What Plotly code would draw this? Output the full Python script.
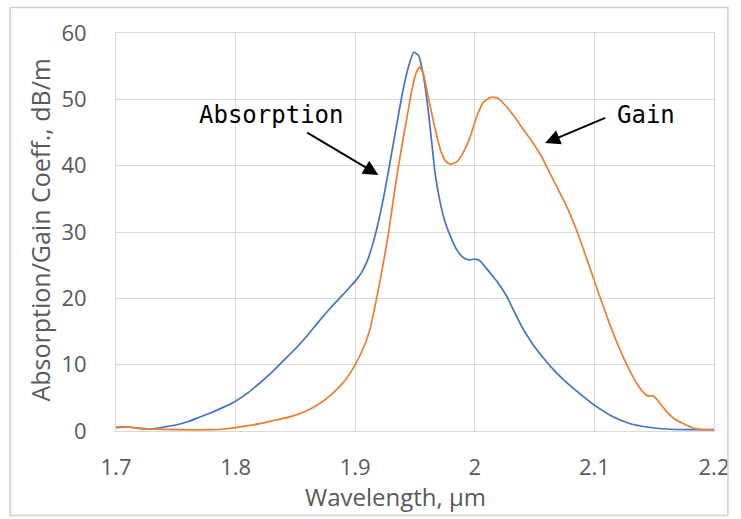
import plotly.graph_objects as go

# Absorption (blue)
abs_x = [1.700, 1.710, 1.720, 1.730, 1.740, 1.750, 1.760, 1.770, 1.780, 1.790, 1.800, 1.810, 1.820, 1.830,
         1.840, 1.850, 1.860, 1.870, 1.880, 1.890, 1.895, 1.900, 1.905, 1.910, 1.915, 1.920, 1.925, 1.930,
         1.935, 1.940, 1.945, 1.949, 1.953, 1.957, 1.961, 1.964, 1.967, 1.971, 1.975, 1.980, 1.985, 1.990,
         1.995, 2.000, 2.004, 2.008, 2.013, 2.020, 2.027, 2.033, 2.040, 2.048, 2.056, 2.064, 2.075, 2.088,
         2.100, 2.116, 2.130, 2.144, 2.160, 2.180, 2.200]
abs_y = [0.5, 0.6, 0.4, 0.3, 0.6, 0.9, 1.4, 2.1, 2.8, 3.6, 4.5, 5.7, 7.2, 8.8,
         10.6, 12.4, 14.4, 16.6, 18.7, 20.6, 21.6, 22.6, 23.8, 25.6, 28.4, 32.0, 36.4, 41.4,
         46.5, 51.4, 55.2, 57.1, 56.6, 53.6, 48.4, 43.5, 38.6, 34.5, 31.6, 29.2, 27.3, 26.2,
         25.8, 25.9, 25.7, 24.9, 23.8, 22.2, 20.2, 18.0, 15.5, 13.2, 11.3, 9.6, 7.6, 5.6,
         3.9, 2.1, 1.1, 0.6, 0.3, 0.2, 0.2]

# Gain (orange)
gain_x = [1.700, 1.710, 1.720, 1.730, 1.750, 1.780, 1.790, 1.800, 1.810, 1.820, 1.830, 1.840, 1.850,
          1.860, 1.870, 1.880, 1.890, 1.895, 1.900, 1.905, 1.909, 1.913, 1.917, 1.922, 1.928, 1.933,
          1.938, 1.943, 1.947, 1.951, 1.954, 1.957, 1.961, 1.967, 1.972, 1.976, 1.980, 1.985, 1.991,
          1.996, 2.002, 2.007, 2.013, 2.019, 2.026, 2.033, 2.040, 2.048, 2.056, 2.063, 2.070, 2.077,
          2.084, 2.090, 2.097, 2.105, 2.113, 2.121, 2.129, 2.136, 2.141, 2.145, 2.149, 2.153, 2.160,
          2.168, 2.177, 2.183, 2.190, 2.200]
gain_y = [0.6, 0.6, 0.4, 0.3, 0.2, 0.2, 0.3, 0.5, 0.8, 1.1, 1.5, 1.9, 2.4,
          3.1, 4.1, 5.5, 7.3, 8.5, 10.0, 11.8, 13.5, 15.8, 19.2, 23.8, 30.0, 36.3,
          41.9, 47.0, 51.0, 54.0, 54.9, 53.8, 50.4, 45.4, 42.0, 40.6, 40.2, 40.6, 42.2,
          44.3, 47.6, 49.5, 50.3, 50.2, 49.0, 47.4, 45.6, 43.6, 41.3, 38.8, 36.3, 33.8,
          30.8, 27.8, 24.2, 20.0, 16.0, 12.4, 9.3, 7.0, 5.8, 5.3, 5.3, 4.6, 3.0,
          1.7, 0.9, 0.4, 0.2, 0.2]

x_ticks = [1.7, 1.8, 1.9, 2.0, 2.1, 2.2]
x_tick_labels = ["1.7", "1.8", "1.9", "2", "2.1", "2.2"]
y_ticks = [0, 10, 20, 30, 40, 50, 60]

fig = go.Figure()
fig.add_trace(go.Scatter(x=abs_x, y=abs_y, mode="lines", name="Absorption",
                         line=dict(color="#4472C4", width=1.7, shape="spline", smoothing=0.5)))
fig.add_trace(go.Scatter(x=gain_x, y=gain_y, mode="lines", name="Gain",
                         line=dict(color="#ED7D31", width=1.7, shape="spline", smoothing=0.5)))

grid = "#D9D9D9"
tickfont = dict(family="Open Sans", size=22, color="#595959")
fig.update_layout(
    width=741, height=519,
    margin=dict(l=116, r=23, t=33, b=88),
    paper_bgcolor="white", plot_bgcolor="white",
    showlegend=False,
    xaxis=dict(range=[1.7, 2.2], tickvals=x_ticks, ticktext=x_tick_labels,
               showgrid=True, gridcolor=grid, gridwidth=1, zeroline=False,
               showline=True, linecolor=grid, mirror=True, ticks="",
               tickfont=tickfont, ticklabelstandoff=17),
    yaxis=dict(range=[0, 60], tickvals=y_ticks,
               showgrid=True, gridcolor=grid, gridwidth=1, zeroline=False,
               showline=True, linecolor=grid, mirror=True, ticks="",
               tickfont=tickfont, ticklabelstandoff=24),
)

labfont = dict(family="DejaVu Sans Mono", size=24, color="black")
fig.add_annotation(x=1.830, y=47.6, xref="x", yref="y", text="Absorption",
                   showarrow=False, font=labfont)
fig.add_annotation(x=2.1435, y=47.6, xref="x", yref="y", text="Gain",
                   showarrow=False, font=labfont)
fig.add_annotation(x=1.9193, y=38.6, ax=1.8586, ay=45.1, xref="x", yref="y", axref="x", ayref="y",
                   text="", showarrow=True, arrowhead=2, arrowsize=1.5, arrowwidth=2, arrowcolor="black")
fig.add_annotation(x=2.0588, y=43.4, ax=2.1103, ay=47.3, xref="x", yref="y", axref="x", ayref="y",
                   text="", showarrow=True, arrowhead=2, arrowsize=1.5, arrowwidth=2, arrowcolor="black")

titlefont = dict(family="Open Sans", size=24, color="#595959")
fig.add_annotation(x=0.4668, y=-0.1658, xref="paper", yref="paper", text="Wavelength, µm",
                   showarrow=False, font=titlefont, xanchor="center", yanchor="middle")
fig.add_annotation(x=-0.1279, y=0.505, xref="paper", yref="paper", text="Absorption/Gain Coeff., dB/m",
                   showarrow=False, font=dict(family="Open Sans", size=25, color="#595959"),
                   textangle=-90, xanchor="center", yanchor="middle")

# outer chart border
fig.add_shape(type="rect", xref="paper", yref="paper", x0=-0.1769, x1=1.0233, y0=-0.2120, y1=1.0641,
              line=dict(color="#D0D0D0", width=1.5), fillcolor="rgba(0,0,0,0)", layer="above")

fig.write_html("out.html")
